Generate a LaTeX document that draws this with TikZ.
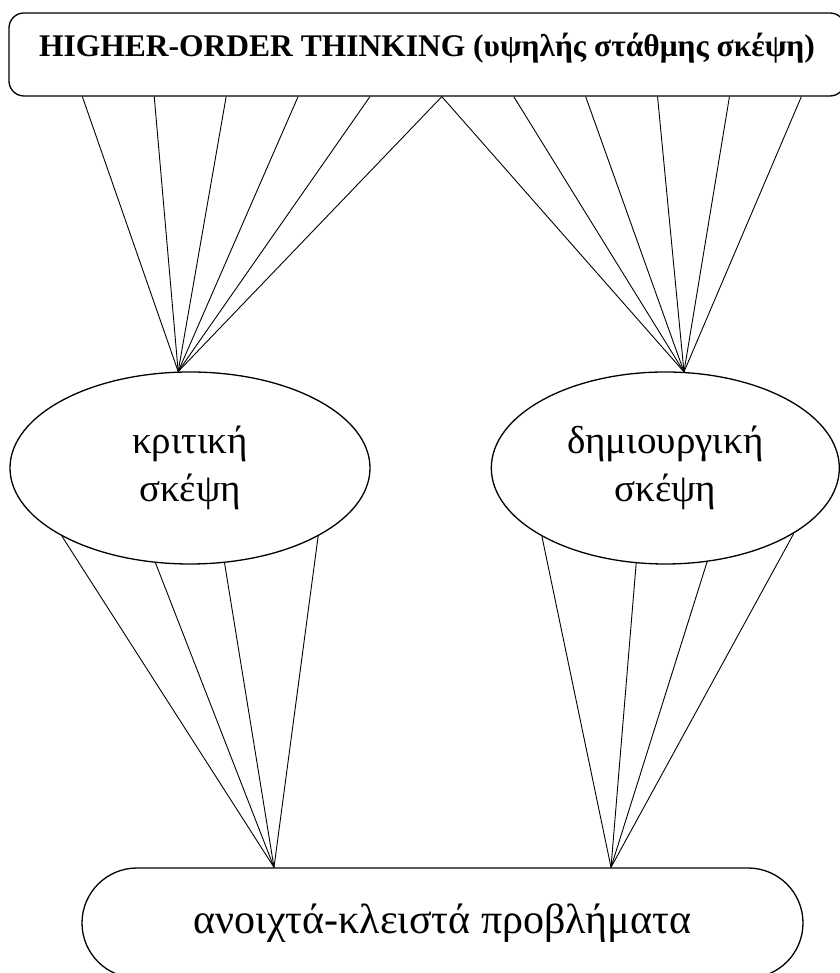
\documentclass[tikz,border=0pt]{standalone}
\usepackage{fontspec}
\setmainfont{Liberation Serif}
\usetikzlibrary{shapes}
\usetikzlibrary{calc}
\usetikzlibrary{positioning}

\begin{document}
\begin{tikzpicture}[
		x=1pt,
		y=1pt,
		font=\fontsize{39pt}{48pt}\selectfont,
		line width=0.9pt
	]
		\tikzset{skill/.style={
			draw,
			ellipse,
			line width=1.3pt,
			minimum width=360,
			minimum height=192,
			inner sep=0,
			align=center,
		}}
		\tikzset{goalbox/.style={
			draw,
			rectangle,
			line width=1.3pt,
			inner sep=0,
		}}

		\useasboundingbox (0,0) rectangle (839,973);

		\node[goalbox, rounded corners=15, minimum width=836, minimum height=83,
			text height=25pt, text depth=20pt,
			font=\fontsize{31.5pt}{31.5pt}\selectfont\bfseries] (top) at (427,918.5)
			{HIGHER-ORDER THINKING (υψηλής στάθμης σκέψη)};

		\node[skill] (kri) at (190,505) {κριτική\\σκέψη};
		\node[skill, minimum width=348, right=120pt of kri] (dem) {δημιουργική\\σκέψη};

		\node[goalbox, rounded corners=55, minimum width=721, minimum height=110,
			font=\fontsize{42pt}{42pt}\selectfont] (prob) at (442.5,50)
			{ανοιχτά-κλειστά προβλήματα};

		\foreach \i in {0,...,10}
			\coordinate (t\i) at ($(top.south west)+(74+71.9*\i,0)$);
		\coordinate (pl) at ($(prob.north)+(-168.5,0)$);
		\coordinate (pr) at ($(prob.north)+(168.5,0)$);

		\foreach \i in {0,...,5}
			\draw (t\i) -- (kri.97);
		\foreach \i in {5,...,10}
			\draw (t\i) -- (dem.79);
		\foreach \a in {208,250,290,332}
			\draw (kri.\a) -- (pl);
		\foreach \a in {209,253,294,333}
			\draw (dem.\a) -- (pr);
	\end{tikzpicture}
\end{document}
